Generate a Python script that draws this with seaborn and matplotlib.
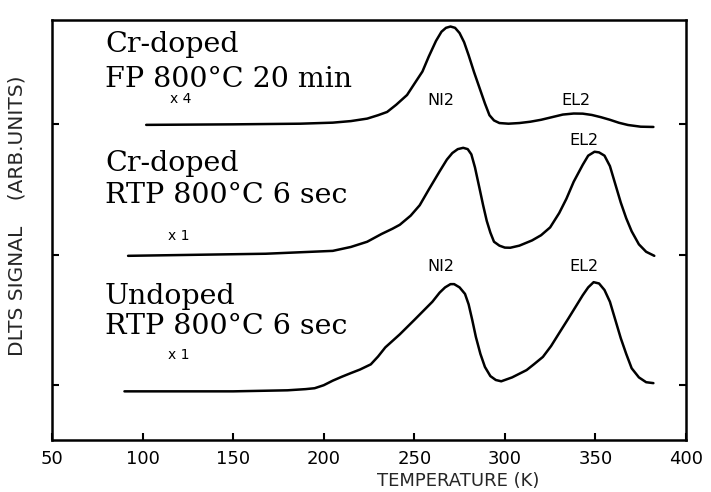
import matplotlib
matplotlib.use("Agg")
import matplotlib.pyplot as plt
import seaborn as sns
import pandas as pd

# ---- data ----
T_fp = [102, 150, 187, 205, 215, 224, 230, 235, 240, 246, 250, 254.5, 258, 262, 265, 267.5, 270, 272.5, 275, 277.5,
        280, 283, 286, 289, 291.5, 294, 297, 302, 308, 314, 320, 326, 332, 338, 343, 348, 353, 358, 363, 368, 375, 382]
S_fp = [-0.004, 0.0, 0.005, 0.013, 0.025, 0.044, 0.07, 0.095, 0.15, 0.225, 0.31, 0.405, 0.52, 0.64, 0.71, 0.74, 0.75, 0.74, 0.70, 0.63,
        0.53, 0.40, 0.28, 0.16, 0.07, 0.03, 0.01, 0.005, 0.01, 0.02, 0.035, 0.055, 0.075, 0.083, 0.082, 0.072, 0.055, 0.035, 0.012, -0.005, -0.018, -0.02]

T_rtp = [92, 130, 168, 205, 215, 224, 232, 238, 242, 248, 253, 258, 264, 268, 271, 274, 277, 279.5, 281.5, 283.5,
         286, 288, 290, 292, 294, 297, 300, 303, 308, 315, 320, 325, 330, 334, 338, 343, 346, 349.5, 352, 355,
         358, 361, 364, 367, 370, 374, 378, 382.5]
S_rtp = [-0.008, 0.0, 0.008, 0.03, 0.06, 0.10, 0.16, 0.20, 0.23, 0.30, 0.38, 0.50, 0.64, 0.73, 0.78, 0.81, 0.82, 0.81, 0.77, 0.67,
         0.51, 0.38, 0.26, 0.17, 0.10, 0.07, 0.055, 0.054, 0.07, 0.11, 0.15, 0.21, 0.32, 0.43, 0.56, 0.69, 0.76, 0.79, 0.785, 0.76,
         0.68, 0.54, 0.40, 0.28, 0.18, 0.08, 0.023, -0.008]

T_und = [90, 150, 180, 190, 195, 200, 205, 210, 215, 220, 226, 230, 234, 238, 242, 246, 250, 255, 260, 264,
         267, 270, 272, 275, 278, 280, 282, 284, 286.5, 289, 292, 295, 298, 304, 312, 316, 321, 325.5, 330, 335,
         339, 343, 346, 349, 352, 355, 358, 361, 364, 367, 370, 374, 378, 382]
S_und = [-0.047, -0.047, -0.039, -0.03, -0.023, 0.0, 0.035, 0.065, 0.093, 0.12, 0.16, 0.22, 0.29, 0.34, 0.39, 0.445, 0.50, 0.57, 0.64, 0.71,
         0.75, 0.775, 0.775, 0.75, 0.70, 0.62, 0.50, 0.37, 0.24, 0.14, 0.07, 0.04, 0.03, 0.06, 0.116, 0.16, 0.217, 0.30, 0.40, 0.51,
         0.60, 0.69, 0.75, 0.79, 0.78, 0.73, 0.64, 0.50, 0.36, 0.24, 0.13, 0.06, 0.023, 0.016]

curve_names = ["Cr-doped FP", "Cr-doped RTP", "Undoped RTP"]
curve_offsets = [2.0, 1.0, 0.0]
x_ticks = [50, 100, 150, 200, 250, 300, 350, 400]

sns.set_theme(style="white")
plt.rcParams['font.family'] = ['DejaVu Sans']

fig = plt.figure(figsize=(7.11, 4.92), dpi=100)
ax = fig.add_axes([52/711, 52/492, 634/711, 420/492])

for name, T, S, off in zip(curve_names, [T_fp, T_rtp, T_und], [S_fp, S_rtp, S_und], curve_offsets):
    df = pd.DataFrame({"T": T, "S": [v + off for v in S]})
    sns.lineplot(data=df, x="T", y="S", ax=ax, color="black", linewidth=1.8, sort=False, estimator=None)

ax.set_xlim(50, 400)
ax.set_ylim(-0.42, 2.80)
ax.set_xticks(x_ticks)
ax.set_xticklabels([str(t) for t in x_ticks], fontsize=13)
ax.set_yticks(curve_offsets)
ax.set_yticklabels([])
ax.tick_params(axis="x", direction="in", length=5, width=1.5, bottom=True, top=False, pad=7, colors="black")
ax.tick_params(axis="y", direction="in", length=5, width=1.5, left=True, right=True, colors="black")
for sp in ax.spines.values():
    sp.set_color("black")
    sp.set_linewidth(1.8)

ax.set_xlabel("TEMPERATURE (K)", fontsize=13)
ax.xaxis.set_label_coords(0.64, -0.075)
ax.set_ylabel("DLTS SIGNAL    (ARB.UNITS)", fontsize=14.5)
ax.yaxis.set_label_coords(-0.04, 0.535)

serif = ['DejaVu Serif']
tfs = 20.5
def px2data(px, py):
    return (px - 52) / 634 * 350 + 50, (385 - py) / 130.5

def put(txt, px, py, fs, fam, ha="left", weight="normal"):
    x, y = px2data(px, py)
    ax.text(x, y, txt, fontsize=fs, family=fam, ha=ha, va="center", color="black", fontweight=weight)

put("Cr-doped", 105, 44, tfs, serif)
put("FP 800°C 20 min", 105, 79, tfs, serif)
put("x 4", 181, 99, 10, ['DejaVu Sans'], "center")
put("NI2", 441, 100, 11.5, ['DejaVu Sans'], "center")
put("EL2", 576, 100, 11.5, ['DejaVu Sans'], "center")

put("Cr-doped", 105, 163, tfs, serif)
put("RTP 800°C 6 sec", 105, 195, tfs, serif)
put("x 1", 179, 236, 10, ['DejaVu Sans'], "center")
put("EL2", 584, 140, 11.5, ['DejaVu Sans'], "center")

put("NI2", 441, 266, 11.5, ['DejaVu Sans'], "center")
put("EL2", 584, 266, 11.5, ['DejaVu Sans'], "center")
put("Undoped", 105, 296, tfs, serif)
put("RTP 800°C 6 sec", 105, 326, tfs, serif)
put("x 1", 179, 355, 10, ['DejaVu Sans'], "center")

fig.savefig("out.png", dpi=100)
